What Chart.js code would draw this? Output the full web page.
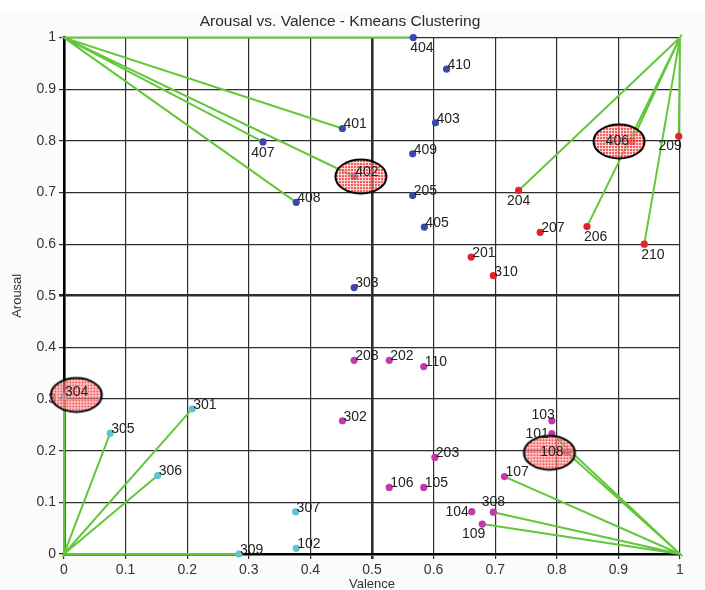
<!DOCTYPE html>
<html>
<head>
<meta charset="utf-8">
<script src="https://cdn.jsdelivr.net/npm/chart.js@4/dist/chart.umd.min.js"></script>
<style>
  html, body { margin: 0; padding: 0; background: #ffffff; }
  #wrap { width: 705px; height: 590px; position: relative; }
</style>
</head>
<body>
<div id="wrap"><canvas id="c" width="705" height="590"></canvas></div>
<script>
// ---------- DATA ----------
const chartTitle = 'Arousal vs. Valence - Kmeans Clustering';
const xAxisTitle = 'Valence';
const yAxisTitle = 'Arousal';
const xTickLabels = ['0','0.1','0.2','0.3','0.4','0.5','0.6','0.7','0.8','0.9','1'];
const yTickLabels = ['0','0.1','0.2','0.3','0.4','0.5','0.6','0.7','0.8','0.9','1'];

// cluster 1 (blue)
const blueIds = ['401','402','403','404','405','407','408','409','410','205','303'];
const blueX   = [0.452,0.471,0.603,0.567,0.585,0.323,0.377,0.566,0.621,0.566,0.471];
const blueY   = [0.824,0.731,0.835,1.000,0.633,0.798,0.681,0.775,0.939,0.694,0.516];

// cluster 2 (red)
const redIds = ['201','204','206','207','209','210','310','406'];
const redX   = [0.661,0.738,0.849,0.773,0.998,0.942,0.697,0.922];
const redY   = [0.575,0.704,0.634,0.623,0.809,0.600,0.539,0.799];

// cluster 3 (cyan)
const cyanIds = ['301','304','305','306','307','309','102'];
const cyanX   = [0.208,0.000,0.075,0.152,0.376,0.284,0.377];
const cyanY   = [0.281,0.305,0.234,0.152,0.082,0.000,0.011];

// cluster 4 (magenta)
const magIds = ['101','103','104','105','106','107','108','109','110','202','203','208','302','308'];
const magX   = [0.792,0.792,0.662,0.584,0.528,0.715,0.816,0.679,0.584,0.528,0.602,0.471,0.452,0.697];
const magY   = [0.233,0.258,0.082,0.129,0.129,0.150,0.197,0.058,0.363,0.375,0.187,0.375,0.258,0.081];

// cluster centroids (highlight ellipses)
const centroidX = [0.482, 0.901, 0.020, 0.788];
const centroidY = [0.731, 0.799, 0.308, 0.196];

// spokes: corner anchors and linked point ids
const cornerX = [0, 1, 0, 1];
const cornerY = [1, 1, 0, 0];
const spokesUL = ['404','401','407','402','408'];
const spokesUR = ['204','406','206','210','209'];
const spokesLL = ['304','305','301','306','309'];
const spokesLR = ['101','108','107','308','109'];

// label placement codes (default: right/above)
const labelPlace = {
  '404':'br','407':'b','204':'b','206':'br','210':'br',
  '209':'bl','109':'bl','103':'tl','101':'l','104':'l','406':'l','108':'l','308':'t'
};

// ---------- BUILD ----------
function pts(ids, xs, ys) { return ids.map((id, i) => ({x: xs[i], y: ys[i], id})); }
const bluePts = pts(blueIds, blueX, blueY);
const redPts  = pts(redIds, redX, redY);
const cyanPts = pts(cyanIds, cyanX, cyanY);
const magPts  = pts(magIds, magX, magY);
const allPts = [].concat(bluePts, redPts, cyanPts, magPts);
const byId = {};
allPts.forEach(p => byId[p.id] = p);

function spokeData(ci, ids) {
  const out = [];
  ids.forEach(id => {
    out.push({x: cornerX[ci], y: cornerY[ci]});
    out.push({x: byId[id].x, y: byId[id].y});
  });
  return out;
}

// ellipse marker image
function makeEllipse() {
  const w = 56, h = 39;
  const c = document.createElement('canvas');
  c.width = w; c.height = h;
  const g = c.getContext('2d');
  const pc = document.createElement('canvas');
  pc.width = 3; pc.height = 3;
  const pg = pc.getContext('2d');
  pg.fillStyle = 'rgba(255,185,185,0.5)';
  pg.fillRect(0, 0, 3, 3);
  pg.fillStyle = 'rgba(238,50,50,0.78)';
  pg.fillRect(0, 0, 2, 2);
  g.beginPath();
  g.ellipse(w/2, h/2, 25.5, 17, 0, 0, Math.PI*2);
  g.fillStyle = g.createPattern(pc, 'repeat');
  g.fill();
  g.lineWidth = 2;
  g.strokeStyle = '#000';
  g.stroke();
  return c;
}
const ellipseImg = makeEllipse();

const labelFont = '14px "Liberation Sans", Arial, sans-serif';
const labelPlugin = {
  id: 'pointLabels',
  afterDatasetsDraw(chart) {
    const ctx = chart.ctx;
    ctx.save();
    ctx.font = labelFont;
    ctx.fillStyle = '#222';
    chart.data.datasets.forEach((ds, di) => {
      if (!ds.isPoints) return;
      const meta = chart.getDatasetMeta(di);
      meta.data.forEach((el, i) => {
        const id = ds.data[i].id;
        const place = labelPlace[id] || 'r';
        let x = el.x, y = el.y, align = 'left';
        if (place === 'r') { x += 1; y -= 4; align = 'left'; }
        else if (place === 'b') { y += 11; align = 'center'; }
        else if (place === 'br') { x -= 3; y += 11; align = 'left'; }
        else if (place === 'bl') { x += 3; y += 10; align = 'right'; }
        else if (place === 'tl') { x += 3; y -= 6; align = 'right'; }
        else if (place === 'l') { x -= 3; y += 0; align = 'right'; }
        else if (place === 't') { y -= 10; align = 'center'; }
        ctx.textAlign = align;
        ctx.textBaseline = 'middle';
        ctx.fillText(id, x, y);
      });
    });
    ctx.restore();
  }
};

const bgPlugin = {
  id: 'bg',
  beforeDraw(chart) {
    const ctx = chart.ctx, a = chart.chartArea;
    ctx.save();
    ctx.fillStyle = '#fbfbfb';
    ctx.fillRect(0, 11, chart.width, chart.height - 11);
    ctx.fillStyle = '#ffffff';
    ctx.fillRect(a.left, a.top, a.right - a.left, a.bottom - a.top);
    ctx.restore();
  }
};

const green = '#62c83a';
function spokeDs(ci, ids) {
  return {
    data: spokeData(ci, ids), showLine: true, borderColor: green, borderWidth: 2,
    pointRadius: 0, pointHoverRadius: 0, fill: false, order: 3, clip: 3
  };
}
function pointDs(data, color) {
  return {
    data, isPoints: true, backgroundColor: color, borderColor: color,
    pointRadius: 3.6, borderWidth: 0, order: 2, clip: false
  };
}

const gridColor = '#2e2e2e';
const fam = '"Liberation Sans", Arial, sans-serif';
const tickFont = {family: fam, size: 14};

new Chart(document.getElementById('c'), {
  type: 'scatter',
  data: {
    datasets: [
      spokeDs(0, spokesUL), spokeDs(1, spokesUR), spokeDs(2, spokesLL), spokeDs(3, spokesLR),
      pointDs(bluePts, '#3b47ad'),
      pointDs(redPts, '#e52228'),
      pointDs(cyanPts, '#5fc6cf'),
      pointDs(magPts, '#c03aae'),
      {
        data: centroidX.map((x, i) => ({x, y: centroidY[i]})),
        pointStyle: ellipseImg, pointRadius: 10, order: 1, clip: false
      }
    ]
  },
  options: {
    responsive: false,
    animation: false,
    events: [],
    layout: { padding: {top: 0, right: 25, bottom: 0, left: 0} },
    plugins: {
      legend: { display: false },
      tooltip: { enabled: false },
      title: {
        display: true, text: chartTitle, color: '#2a2a2a',
        font: {family: fam, size: 15.5, weight: 'normal'},
        padding: {top: 12, bottom: 7}
      }
    },
    scales: {
      x: {
        type: 'linear', min: 0, max: 1,
        afterFit: s => { s.height = 36; },
        ticks: { stepSize: 0.1, color: '#333', font: tickFont, padding: 3, maxRotation: 0,
                 callback: (v, i) => xTickLabels[i] },
        grid: { color: gridColor, tickLength: 5,
                lineWidth: c => (c.tick && Math.abs(c.tick.value - 0.5) < 1e-6) ? 2.6 : 1.2 },
        border: { display: true, color: '#000', width: 2.6 },
        title: { display: true, text: xAxisTitle, color: '#333',
                 font: {family: fam, size: 13}, padding: {top: 0, bottom: -2} }
      },
      y: {
        type: 'linear', min: 0, max: 1,
        afterFit: s => { s.width = 64; },
        ticks: { stepSize: 0.1, color: '#333', font: tickFont, padding: 3,
                 callback: (v, i) => yTickLabels[i] },
        grid: { color: gridColor, tickLength: 5,
                lineWidth: c => (c.tick && Math.abs(c.tick.value - 0.5) < 1e-6) ? 2.6 : 1.2 },
        border: { display: true, color: '#000', width: 2.6 },
        title: { display: true, text: yAxisTitle, color: '#333',
                 font: {family: fam, size: 13}, padding: {top: 10, bottom: 0} }
      }
    }
  },
  plugins: [bgPlugin, labelPlugin]
});
</script>
</body>
</html>
